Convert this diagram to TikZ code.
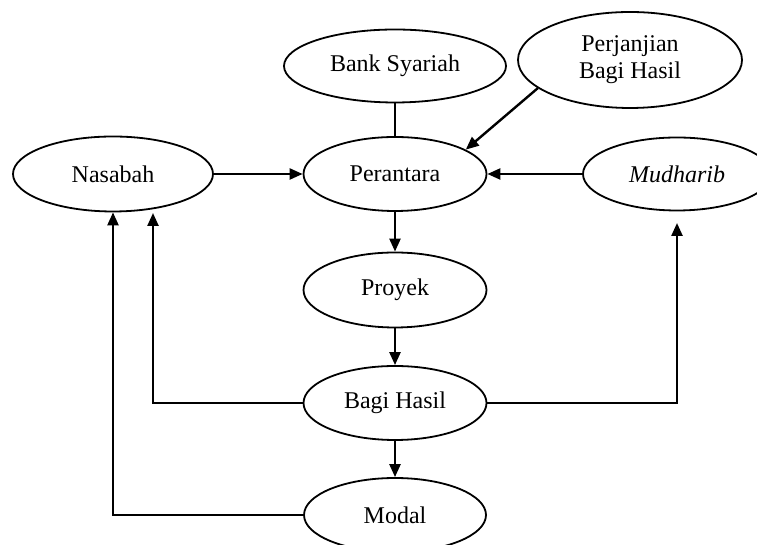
\documentclass[tikz,border=0pt]{standalone}
\usepackage{fontspec}
\setmainfont{Liberation Serif}
\usetikzlibrary{shapes.geometric,arrows.meta}
\begin{document}
\begin{tikzpicture}[x=1pt,y=1pt,
  ell/.style={draw, ellipse, line width=1.8pt, inner sep=0pt, align=center,
    font=\fontsize{24}{27}\selectfont},
  arr/.style={line width=2.4pt, -{Triangle[length=13pt,width=11pt]}},
  plain/.style={line width=1.5pt}]
\useasboundingbox (0,0) rectangle (757,545);
\node[ell, minimum width=200pt, minimum height=75pt] (nas) at (113,371) {Nasabah};
\node[ell, minimum width=222pt, minimum height=73pt] (bank) at (395,479) {Bank Syariah};
\node[ell, minimum width=224pt, minimum height=96pt] (perj) at (630,485) {Perjanjian\\Bagi Hasil};
\node[ell, minimum width=183pt, minimum height=74pt] (per) at (395,371) {Perantara};
\node[ell, minimum width=188pt, minimum height=73pt] (mud) at (677,371) {\itshape Mudharib};
\node[ell, minimum width=183pt, minimum height=75pt] (pro) at (395,255) {Proyek};
\node[ell, minimum width=183pt, minimum height=74pt] (bh) at (395,142) {Bagi Hasil};
\node[ell, minimum width=182pt, minimum height=74pt] (mod) at (395,30) {Modal};
\coordinate (n2) at (153,332);
\coordinate (m2) at (677,322);
\draw[plain] (bank.south) -- (per.north);
\draw[arr] (perj.197) -- (per.19);
\draw[arr] (nas.east) -- (per.west);
\draw[arr] (mud.west) -- (per.east);
\draw[arr] (per.south) -- (pro.north);
\draw[arr] (pro.south) -- (bh.north);
\draw[arr] (bh.south) -- (mod.north);
\draw[arr] (bh.west) -| (n2);
\draw[arr] (mod.west) -| (nas.south);
\draw[arr] (bh.east) -| (m2);
\end{tikzpicture}
\end{document}
